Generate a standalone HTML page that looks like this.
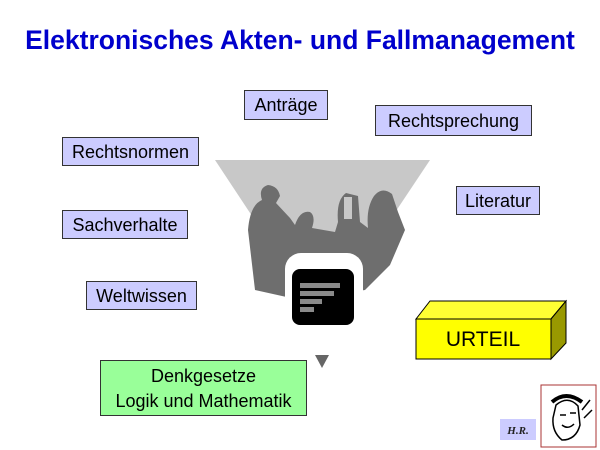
<!DOCTYPE html>
<html><head><style>
body{margin:0;width:600px;height:450px;background:#fff;position:relative;overflow:hidden;font-family:"Liberation Sans",sans-serif}
.b{position:absolute;background:#ccccff;border:1px solid #333;font-size:18px;text-align:center;box-sizing:border-box;color:#000}
h1{position:absolute;left:0;top:25px;width:600px;margin:0;text-align:center;font-size:26.5px;color:#0000cc;font-weight:bold}
</style></head><body>
<h1>Elektronisches Akten- und Fallmanagement</h1>
<svg width="600" height="450" style="position:absolute;left:0;top:0">
<polygon points="215,160 430,160 322,322" fill="#c8c8c8"/>
<g fill="#6e6e6e">
<path d="M255,290 L248,230 Q250,205 262,200 Q258,188 268,185 Q278,186 280,196 L276,203 L290,218 L295,225 Q300,210 310,212 Q316,216 312,228 L335,232 L338,222 Q336,200 346,193 L358,196 L360,222 L368,228 Q366,208 374,196 Q382,186 392,194 L398,212 L405,230 L390,265 L365,290 L300,300 Z"/>
</g>
<rect x="344" y="197" width="8" height="22" fill="#c8c8c8"/>
<rect x="285" y="253" width="78" height="74" rx="16" fill="#fff"/>
<rect x="292" y="269" width="62" height="56" rx="8" fill="#000"/>
<g fill="#8a8a8a"><rect x="300" y="283" width="40" height="5"/><rect x="300" y="291" width="34" height="5"/><rect x="300" y="299" width="22" height="5"/><rect x="300" y="307" width="14" height="5"/></g>
<polygon points="315,355 329,355 322,368" fill="#666"/>
<polygon points="416,319 430,301 566,301 551,319" fill="#ffff33" stroke="#000"/>
<polygon points="551,319 566,301 566,343 551,359" fill="#999900" stroke="#000"/>
<rect x="416" y="319" width="135" height="40" fill="#ffff00" stroke="#000"/>
<text x="483" y="346" font-size="21" text-anchor="middle" font-family="Liberation Sans">URTEIL</text>
<rect x="541" y="385" width="55" height="62" fill="#fff" stroke="#a33"/>
<g stroke="#000" fill="none" stroke-width="1.5">
<path d="M556,405 Q568,395 578,406 L580,425 Q576,440 562,440 Q552,432 553,418 Z"/>
<path d="M552,402 Q566,390 582,402" stroke-width="4"/>
<path d="M560,415 L566,415 M570,413 L576,413 M562,425 Q568,430 574,424"/>
<path d="M582,410 L590,400 M584,418 L592,410"/>
</g>
<rect x="500" y="419" width="36" height="21" fill="#ccccff"/>
<text x="518" y="434" font-size="11" font-weight="bold" font-style="italic" text-anchor="middle" font-family="Liberation Serif" fill="#222">H.R.</text>
</svg>
<div class="b" style="left:244px;top:90px;width:84px;height:30px;line-height:28px">Anträge</div>
<div class="b" style="left:375px;top:105px;width:157px;height:31px;line-height:31px">Rechtsprechung</div>
<div class="b" style="left:62px;top:137px;width:137px;height:29px;line-height:28px">Rechtsnormen</div>
<div class="b" style="left:456px;top:186px;width:84px;height:29px;line-height:28px">Literatur</div>
<div class="b" style="left:62px;top:210px;width:126px;height:29px;line-height:28px">Sachverhalte</div>
<div class="b" style="left:86px;top:281px;width:111px;height:29px;line-height:28px">Weltwissen</div>
<div class="b" style="left:100px;top:360px;width:207px;height:56px;line-height:25px;padding-top:3px;background:#99ff99">Denkgesetze<br>Logik und Mathematik</div>
</body></html>
